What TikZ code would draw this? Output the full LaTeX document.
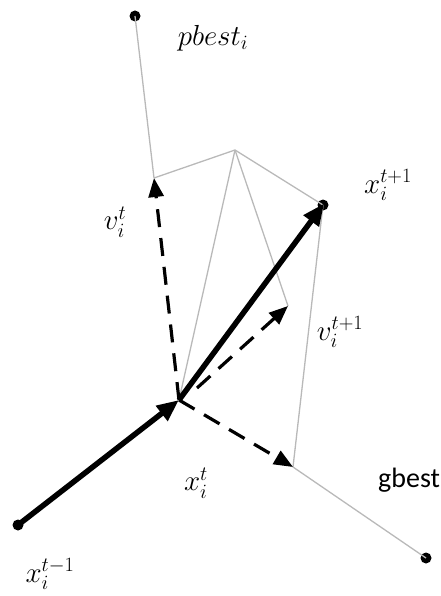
\documentclass[tikz,border=0pt]{standalone}
\usepackage{fix-cm}
\usepackage{fontspec}
\newfontfamily\sansf{Carlito}
\usetikzlibrary{arrows.meta}
\begin{document}
\begin{tikzpicture}[x=1pt,y=-1pt,
  guide/.style={gray!55,line width=1.3pt},
  move/.style={line width=5.5pt,-{Triangle[length=22pt,width=18pt]}},
  vel/.style={line width=3.2pt,dash pattern=on 18pt off 11pt,-{Triangle[length=19pt,width=15pt]}},
  dotn/.style={circle,fill=black,inner sep=0pt,minimum size=11pt},
  lab/.style={font=\fontsize{29}{34}\selectfont,inner sep=0pt}]
\useasboundingbox (0,0) rectangle (440,596);
\node[dotn] (pb) at (135,16) {};
\node[dotn] (xn) at (323,205) {};
\node[dotn] (xp) at (18,525) {};
\node[dotn] (gb) at (426,558) {};
\coordinate (ap) at (235,150);
\coordinate (xt) at (179,400);
\coordinate (vt) at (154,178);
\coordinate (vn) at (288,306);
\coordinate (gd) at (293,467);
\coordinate (vs) at (197,388);
% guide lines
\draw[guide] (pb.center) -- (vt);
\draw[guide] (vt) -- (ap) -- (xn.center);
\draw[guide] (ap) -- (vn);
\draw[guide] (ap) -- (xt);
\draw[guide] (xn.center) -- (gd) -- (gb.center);
% velocity (dashed)
\draw[vel] (xt) -- (vt);
\draw[vel] (xt) -- (gd);
\draw[vel] (vs) -- (vn);
% positions
\draw[move] (xp.center) -- (xt);
\draw[move,shorten >=-2pt] (xt) -- (xn.center);
% labels
\node[lab] (lpb) at (213,38) {$pbest_i$};
\node[lab] (lvt) at (115,222) {$v_i^t$};
\node[lab] (lxn) at (388,185) {$x_i^{t+1}$};
\node[lab] (lvn) at (340,332) {$v_i^{t+1}$};
\node[lab] (lxt) at (196,483) {$x_i^t$};
\node[lab,font=\sansf\fontsize{28}{34}\selectfont,anchor=west] (lgb) at (378,480) {gbest};
\node[lab] (lxp) at (50,574) {$x_i^{t-1}$};
\end{tikzpicture}
\end{document}
